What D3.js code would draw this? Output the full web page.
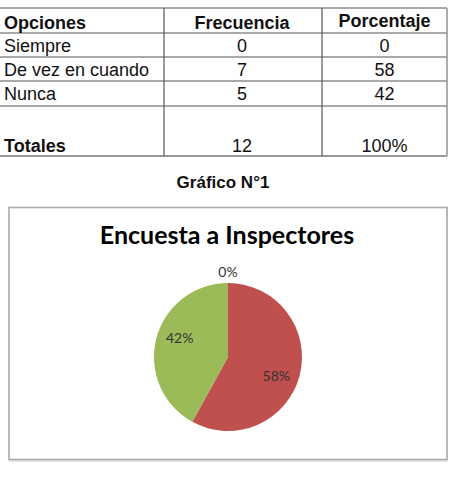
<!DOCTYPE html>
<html>
<head>
<meta charset="utf-8">
<script src="https://cdn.jsdelivr.net/npm/d3@7"></script>
<style>
  body { margin: 0; background: #fff; }
</style>
</head>
<body>
<div id="chart"></div>
<script>
// table + pie data
const options = ["Siempre", "De vez en cuando", "Nunca"];
const frecuencia = [0, 7, 5];
const porcentaje = [0, 58, 42];
const headers = ["Opciones", "Frecuencia", "Porcentaje"];
const totalLabel = "Totales";
const totalFrecuencia = "12";
const totalPorcentaje = "100%";
const figureLabel = "Gráfico N°1";
const chartTitle = "Encuesta a Inspectores";
const sliceColors = ["#4F81BD", "#C0504D", "#9BBB59"];

const W = 457, H = 480;
const svg = d3.select("#chart").append("svg")
    .attr("width", W)
    .attr("height", H);

// ---- table ----
const colX = [-2, 164, 322, 447];
const rowY = [8, 33, 57, 81, 106, 156];
const lineColor = "#555";

const tbl = svg.append("g");

// horizontal lines
rowY.forEach((y, i) => {
    tbl.append("line")
        .attr("x1", colX[0]).attr("x2", colX[3])
        .attr("y1", y).attr("y2", y)
        .attr("stroke", i === rowY.length - 1 ? "#999" : lineColor)
        .attr("stroke-width", i === rowY.length - 1 ? 2 : 1.2);
});
// vertical lines
colX.forEach((x, i) => {
    tbl.append("line")
        .attr("x1", x).attr("x2", x)
        .attr("y1", rowY[0]).attr("y2", rowY[5])
        .attr("stroke", i === 3 ? "#999" : lineColor)
        .attr("stroke-width", i === 3 ? 1.6 : 1.2);
});

const cellFont = "'Liberation Sans', Arial, sans-serif";
const fs = 18;
const col1c = (colX[1] + colX[2]) / 2 - 1;
const col2c = (colX[2] + colX[3]) / 2;

function cell(x, y, txt, anchor, bold) {
    tbl.append("text")
        .attr("x", x).attr("y", y)
        .attr("text-anchor", anchor)
        .attr("font-family", cellFont)
        .attr("font-size", fs)
        .attr("font-weight", bold ? "bold" : "normal")
        .attr("fill", "#111")
        .text(txt);
}

cell(4, 29, headers[0], "start", true);
cell(col1c, 29, headers[1], "middle", true);
cell(col2c, 27, headers[2], "middle", true);

options.forEach((o, i) => {
    const y = rowY[i + 1] + 19;
    cell(4, y, o, "start", false);
    cell(col1c, y, frecuencia[i], "middle", false);
    cell(col2c, y, porcentaje[i], "middle", false);
});

cell(4, 152, totalLabel, "start", true);
cell(col1c, 152, totalFrecuencia, "middle", false);
cell(col2c, 152, totalPorcentaje, "middle", false);

// figure label
svg.append("text")
    .attr("x", 223).attr("y", 188)
    .attr("text-anchor", "middle")
    .attr("font-family", cellFont)
    .attr("font-size", 17)
    .attr("font-weight", "bold")
    .attr("fill", "#111")
    .text(figureLabel);

// ---- chart box ----
svg.append("rect")
    .attr("x", 10).attr("y", 209)
    .attr("width", 437).attr("height", 252)
    .attr("fill", "none")
    .attr("stroke", "#e6e6e6")
    .attr("stroke-width", 2);
svg.append("rect")
    .attr("x", 9).attr("y", 207.5)
    .attr("width", 438).attr("height", 252)
    .attr("fill", "#fff")
    .attr("stroke", "#aaa")
    .attr("stroke-width", 1.6);

svg.append("text")
    .attr("x", 227).attr("y", 244)
    .attr("text-anchor", "middle")
    .attr("font-family", "Lato, 'Open Sans', sans-serif")
    .attr("font-size", 25)
    .attr("font-weight", "bold")
    .attr("fill", "#000")
    .text(chartTitle);

// ---- pie ----
const cx = 228, cy = 357, r = 74;
const pieData = options.map((o, i) => ({name: o, value: porcentaje[i], color: sliceColors[i]}));

const pie = d3.pie()
    .sort(null)
    .value(d => d.value);
const arcs = pie(pieData);

const arc = d3.arc().innerRadius(0).outerRadius(r);

const g = svg.append("g").attr("transform", `translate(${cx},${cy})`);

g.selectAll("path")
    .data(arcs)
    .join("path")
    .attr("d", arc)
    .attr("fill", d => d.data.color);

g.selectAll("text")
    .data(arcs)
    .join("text")
    .attr("transform", d => {
        if (d.data.value === 0) return `translate(0,${-r - 11})`;
        const a = (d.startAngle + d.endAngle) / 2 + 0.12;
        return `translate(${Math.sin(a) * r * 0.7},${-Math.cos(a) * r * 0.7})`;
    })
    .attr("text-anchor", "middle")
    .attr("dy", "0.35em")
    .attr("font-family", "Lato, 'Open Sans', sans-serif")
    .attr("font-size", 14)
    .attr("fill", "#333")
    .text(d => d.data.value + "%");
</script>
</body>
</html>
